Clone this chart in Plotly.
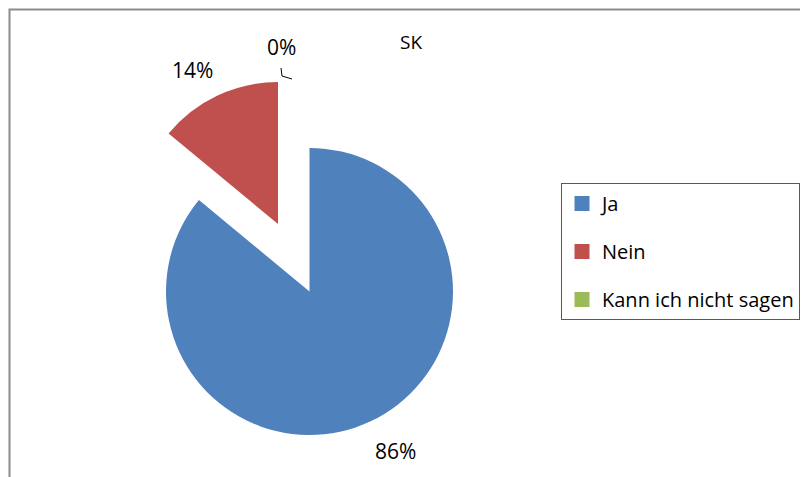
import plotly.graph_objects as go

# data
labels = ['Ja', 'Nein', 'Kann ich nicht sagen']
values = [86, 14, 0]
colors = ['#4F81BD', '#C0504D', '#9BBB59']
title_text = 'SK'

# the page puts the figure 8px in from the top-left corner
OFF = 8
W, H = 808 - OFF, 477 - OFF
FONT = 'Open Sans, Lato, sans-serif'
clear = 'rgba(0,0,0,0)'


def px_x(x):
    return (x - OFF) / W


def px_y(y):
    return 1 - (y - OFF) / H


total = sum(values)
pct = ['%d%%' % round(v / total * 100) for v in values]

fig = go.Figure()

# main pie: the big slice, other slices left see-through
fig.add_trace(go.Pie(
    labels=labels,
    values=values,
    sort=False,
    direction='clockwise',
    rotation=0,
    marker=dict(colors=[colors[0], clear, clear], line=dict(width=0)),
    textinfo='none',
    domain=dict(x=[px_x(166), px_x(453)], y=[px_y(435), px_y(148)]),
    showlegend=False,
    hoverinfo='label+percent',
))

# exploded slice (Nein) with the 0% slice next to it
fig.add_trace(go.Pie(
    labels=labels,
    values=values,
    sort=False,
    direction='clockwise',
    rotation=0,
    marker=dict(colors=[clear, colors[1], colors[2]], line=dict(width=0)),
    textinfo='none',
    domain=dict(x=[px_x(136), px_x(420)], y=[px_y(366), px_y(82)]),
    showlegend=False,
    hoverinfo='label+percent',
))

# legend entries (tiny pies hidden behind the legend box)
for i, (lab, col) in enumerate(zip(labels, colors)):
    fig.add_trace(go.Pie(
        labels=[lab],
        values=[1],
        marker=dict(colors=[col], line=dict(width=3, color=col)),
        textinfo='none',
        hoverinfo='skip',
        legendgroup='g%d' % i,
        domain=dict(x=[px_x(700), px_x(700.5)], y=[px_y(250.5), px_y(250)]),
    ))

# percent labels, placed like the original data labels
label_pos = [(395, 451), (192, 70), (281, 47)]
annotations = []
for txt, (lx, ly) in zip(pct, label_pos):
    annotations.append(dict(
        text=txt, x=px_x(lx), y=px_y(ly), xref='paper', yref='paper',
        xanchor='center', yanchor='middle', showarrow=False,
        font=dict(family=FONT, size=21, color='#000000'),
    ))

fig.update_layout(
    width=W,
    height=H,
    margin=dict(l=0, r=0, t=0, b=0, autoexpand=False),
    paper_bgcolor='white',
    plot_bgcolor='white',
    font=dict(family=FONT, color='#000000'),
    title=dict(
        text=title_text,
        x=px_x(411),
        y=px_y(42),
        xanchor='center',
        yanchor='middle',
        font=dict(family=FONT, size=19, color='#000000'),
    ),
    annotations=annotations,
    legend=dict(
        x=px_x(561),
        y=px_y(183),
        xanchor='left',
        yanchor='top',
        bgcolor='white',
        bordercolor='#595959',
        borderwidth=1,
        font=dict(family=FONT, size=20, color='#000000'),
        tracegroupgap=19,
        traceorder='grouped',
        entrywidth=260,
    ),
    shapes=[
        # chart frame: only top and left edges are in view
        dict(
            type='path',
            xref='paper', yref='paper',
            path='M %f,%f L %f,%f L %f,%f' % (
                px_x(9.5), 0, px_x(9.5), px_y(9.5), 1, px_y(9.5)),
            line=dict(color='#8c8c8c', width=2),
            layer='below',
        ),
        # leader line of the 0% label
        dict(
            type='path',
            xref='paper', yref='paper',
            path='M %f,%f L %f,%f L %f,%f' % (
                px_x(281), px_y(68), px_x(282), px_y(76), px_x(292), px_y(79)),
            line=dict(color='#000000', width=1),
        ),
    ],
)

fig.write_html('out.html')
